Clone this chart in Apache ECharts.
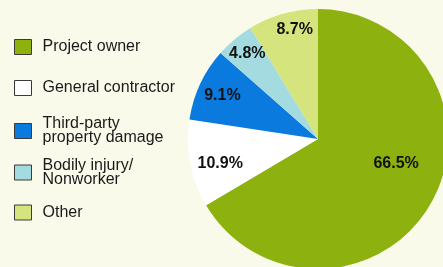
<!DOCTYPE html>
<html>
<head>
<meta charset="utf-8">
<script src="https://cdn.jsdelivr.net/npm/echarts@6/dist/echarts.min.js"></script>
<style>
  html, body { margin: 0; padding: 0; background: #f9faea; }
  #chart { width: 443px; height: 267px; }
</style>
</head>
<body>
<div id="chart"></div>
<script>
const categories = ['Project owner', 'General contractor', 'Third-party\nproperty damage', 'Bodily injury/\nNonworker', 'Other']
const shares = [66.5, 10.9, 9.1, 4.8, 8.7]
const colors = ['#8db20f', '#ffffff', '#0a7ade', '#a3dbe0', '#d5e47c']

// label nudges from the default inside spot, and legend row centres
const labelOffsets = [[19, -9], [-31, 12], [-34, -15], [-27, -33], [-5, -44]]
const legendCentres = [46.5, 87.5, 130, 171.5, 212]

const chart = echarts.init(document.getElementById('chart'))

const legends = categories.map((name, i) => {
  const lines = name.split('\n').length
  const h = lines > 1 ? lines * 14 : 15
  return {
    data: [name],
    left: 14,
    top: legendCentres[i] - h / 2,
    orient: 'vertical',
    padding: 0,
    itemWidth: 17,
    itemHeight: 15,
    selectedMode: false,
    icon: 'rect',
    itemStyle: { borderColor: '#3a3a3a', borderWidth: 1 },
    textStyle: {
      fontFamily: 'Liberation Sans, Arial, sans-serif',
      fontSize: 16,
      lineHeight: 14,
      color: '#1a1a1a',
      padding: [0, 0, 0, 6]
    }
  }
})

chart.setOption({
  backgroundColor: '#f9faea',
  animation: false,
  legend: legends,
  series: [
    {
      type: 'pie',
      center: [318, 139],
      radius: 130,
      startAngle: 90,
      clockwise: true,
      silent: true,
      labelLine: { show: false },
      data: categories.map((name, i) => ({
        name,
        value: shares[i],
        itemStyle: { color: colors[i] },
        label: {
          show: true,
          position: 'inside',
          offset: labelOffsets[i],
          formatter: shares[i].toFixed(1) + '%',
          fontFamily: 'Liberation Sans, Arial, sans-serif',
          fontWeight: 'bold',
          fontSize: 16,
          color: '#111111'
        }
      }))
    }
  ]
})
</script>
</body>
</html>
